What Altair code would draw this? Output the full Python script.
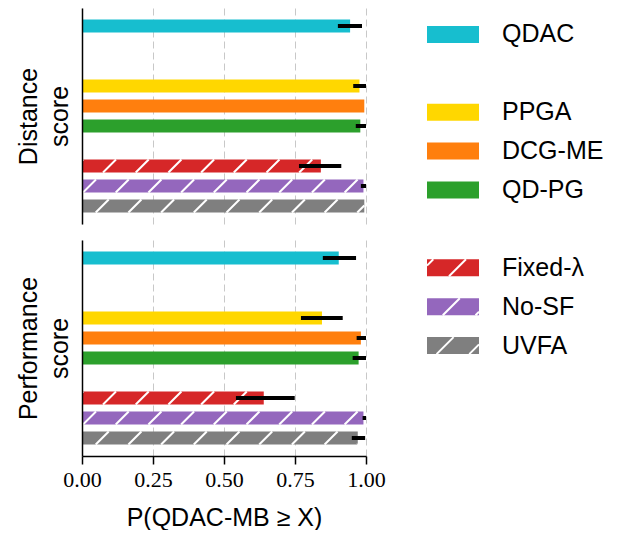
import altair as alt
import pandas as pd

# ---------------- data ----------------
methods = ["QDAC", "PPGA", "DCG-ME", "QD-PG", "Fixed-λ", "No-SF", "UVFA"]
groups = [["QDAC"], ["PPGA", "DCG-ME", "QD-PG"], ["Fixed-λ", "No-SF", "UVFA"]]
colors = ["#17becf", "#ffd700", "#ff7f0e", "#2ca02c", "#d62728", "#9467bd", "#7f7f7f"]
hatched = ["Fixed-λ", "No-SF", "UVFA"]

dist_mean = [0.944, 0.977, 0.994, 0.980, 0.841, 0.991, 0.994]
dist_lo = [0.901, 0.955, 0.994, 0.964, 0.764, 0.982, 0.994]
dist_hi = [0.986, 1.000, 0.994, 1.000, 0.913, 1.000, 0.994]

perf_mean = [0.904, 0.845, 0.982, 0.974, 0.640, 0.991, 0.971]
perf_lo = [0.848, 0.771, 0.967, 0.953, 0.542, 0.988, 0.950]
perf_hi = [0.965, 0.918, 1.000, 1.000, 0.749, 1.000, 0.997]

x_ticks = [0.0, 0.25, 0.5, 0.75, 1.0]

# ---------------- layout constants ----------------
PW, PH = 284, 216          # panel plot size
Y_DOM = [-0.9, 9.9]        # slot domain
SLOT_PX = PH / (Y_DOM[1] - Y_DOM[0])
BAR_H = 13
HATCH_S, HATCH_P = 32.7, 4.0
SANS = "Liberation Sans"
SERIF = "Liberation Serif"


def slot_positions(gaps):
    pos, k = {}, 0
    for gi, g in enumerate(groups):
        for m in g:
            pos[m] = k
            k += 1
        if gi < len(gaps):
            k += gaps[gi]
    return pos


bar_slot = slot_positions([2, 1])
leg_slot = slot_positions([1, 1])


def hatch_lines(x0, x1, yc, half):
    """45-degree '/' hatch lines (pixel space) clipped to [x0, x1]."""
    out = []
    k = int((x0 - half + yc - HATCH_P) // HATCH_S) - 1
    while True:
        xm = HATCH_P + k * HATCH_S - yc
        if xm - half > x1:
            break
        bx, by = xm - half, yc + half
        tx, ty = xm + half, yc - half
        t0 = max(0.0, (x0 - bx) / (tx - bx))
        t1 = min(1.0, (x1 - bx) / (tx - bx))
        if t1 > t0:
            out.append((bx + t0 * (tx - bx), by + t0 * (ty - by),
                        bx + t1 * (tx - bx), by + t1 * (ty - by)))
        k += 1
    return out


def panel(mean, lo, hi, title, bottom):
    df = pd.DataFrame({
        "method": methods,
        "slot": [bar_slot[m] for m in methods],
        "zero": 0.0, "mean": mean, "lo": lo, "hi": hi,
    })
    rows = []
    for m, v in zip(methods, mean):
        if m in hatched:
            yc = bar_slot[m] * SLOT_PX
            for (ax, ay, bx, by) in hatch_lines(0, v * PW, yc, BAR_H / 2):
                rows.append({"hx1": ax / PW, "hy1": ay / SLOT_PX,
                             "hx2": bx / PW, "hy2": by / SLOT_PX})
    hdf = pd.DataFrame(rows)

    xs = alt.Scale(domain=[0, 1], nice=False, zero=False, padding=0)
    ys = alt.Scale(domain=Y_DOM, reverse=True, nice=False, zero=False, padding=0)
    if bottom:
        xaxis = alt.Axis(values=x_ticks, format=".2f", grid=True, gridDash=[7, 4],
                         gridColor="#c8c8c8", gridWidth=1, domain=True, domainColor="black",
                         domainWidth=1.5, ticks=True, tickSize=8, tickWidth=1.5,
                         tickColor="black", labelFont=SERIF, labelFontSize=22,
                         labelColor="black", labelPadding=5, labelFlush=False,
                         labelOverlap=False,
                         title="P(QDAC-MB ≥ X)", titleFont=SANS, titleFontSize=25,
                         titleFontWeight="normal", titleColor="black", titlePadding=15)
    else:
        xaxis = alt.Axis(values=x_ticks, grid=True, gridDash=[7, 4], gridColor="#c8c8c8",
                         gridWidth=1, domain=False, ticks=False, labels=False, title=None)
    yaxis = alt.Axis(labels=False, ticks=False, grid=False, domain=True, domainColor="black",
                     domainWidth=1.5, title=title, titleFont=SANS, titleFontSize=25,
                     titleFontWeight="normal", titleColor="black", titlePadding=10,
                     titleLineHeight=31, zindex=1)

    bars = alt.Chart(df).mark_bar(size=BAR_H).encode(
        x=alt.X("zero:Q", scale=xs, axis=xaxis),
        x2="mean:Q",
        y=alt.Y("slot:Q", scale=ys, axis=yaxis),
        color=alt.Color("method:N", scale=alt.Scale(domain=methods, range=colors), legend=None),
    )
    hatch = alt.Chart(hdf).mark_rule(color="white", strokeWidth=2).encode(
        x=alt.X("hx1:Q", scale=xs, axis=xaxis), x2="hx2:Q",
        y=alt.Y("hy1:Q", scale=ys, axis=yaxis), y2="hy2:Q",
    )
    err = alt.Chart(df).mark_rule(color="black", strokeWidth=4, strokeCap="butt").encode(
        x=alt.X("lo:Q", scale=xs, axis=xaxis), x2="hi:Q",
        y=alt.Y("slot:Q", scale=ys, axis=yaxis),
    )
    return alt.layer(bars, hatch, err).properties(width=PW, height=PH)


p1 = panel(dist_mean, dist_lo, dist_hi, ["Distance", "score"], False)
p2 = panel(perf_mean, perf_lo, perf_hi, ["Performance", "score"], True)

# ---------------- legend ----------------
LW, LH = 185, 448
L_Y0, L_STEP = 26.4, 38.9
SW_X0, SW_X1, SW_H, TXT_X = 8, 60, 17, 83

ldf = pd.DataFrame({
    "method": methods,
    "ly": [L_Y0 + L_STEP * leg_slot[m] for m in methods],
    "sx0": SW_X0, "sx1": SW_X1, "tx": TXT_X,
})
lrows = []
for m in hatched:
    yc = L_Y0 + L_STEP * leg_slot[m]
    for (ax, ay, bx, by) in hatch_lines(SW_X0, SW_X1, yc, SW_H / 2):
        lrows.append({"hx1": ax, "hy1": ay, "hx2": bx, "hy2": by})
lhdf = pd.DataFrame(lrows)

lxs = alt.Scale(domain=[0, LW], nice=False, zero=False, padding=0)
lys = alt.Scale(domain=[0, LH], reverse=True, nice=False, zero=False, padding=0)

lsw = alt.Chart(ldf).mark_bar(size=SW_H).encode(
    x=alt.X("sx0:Q", scale=lxs, axis=None), x2="sx1:Q",
    y=alt.Y("ly:Q", scale=lys, axis=None),
    color=alt.Color("method:N", scale=alt.Scale(domain=methods, range=colors), legend=None),
)
lh = alt.Chart(lhdf).mark_rule(color="white", strokeWidth=2).encode(
    x=alt.X("hx1:Q", scale=lxs, axis=None), x2="hx2:Q",
    y=alt.Y("hy1:Q", scale=lys, axis=None), y2="hy2:Q",
)
ltxt = alt.Chart(ldf).mark_text(align="left", baseline="middle", font=SANS,
                                fontSize=25, color="black").encode(
    x=alt.X("tx:Q", scale=lxs, axis=None),
    y=alt.Y("ly:Q", scale=lys, axis=None),
    text="method:N",
)
legend = alt.layer(lsw, lh, ltxt).properties(width=LW, height=LH)

chart = alt.hconcat(
    alt.vconcat(p1, p2, spacing=16), legend, spacing=33
).properties(
    padding={"left": 8, "top": 0, "right": 0, "bottom": 0}
).configure_view(stroke=None)

chart.save("out.html", embed_options={"renderer": "svg", "actions": False})
